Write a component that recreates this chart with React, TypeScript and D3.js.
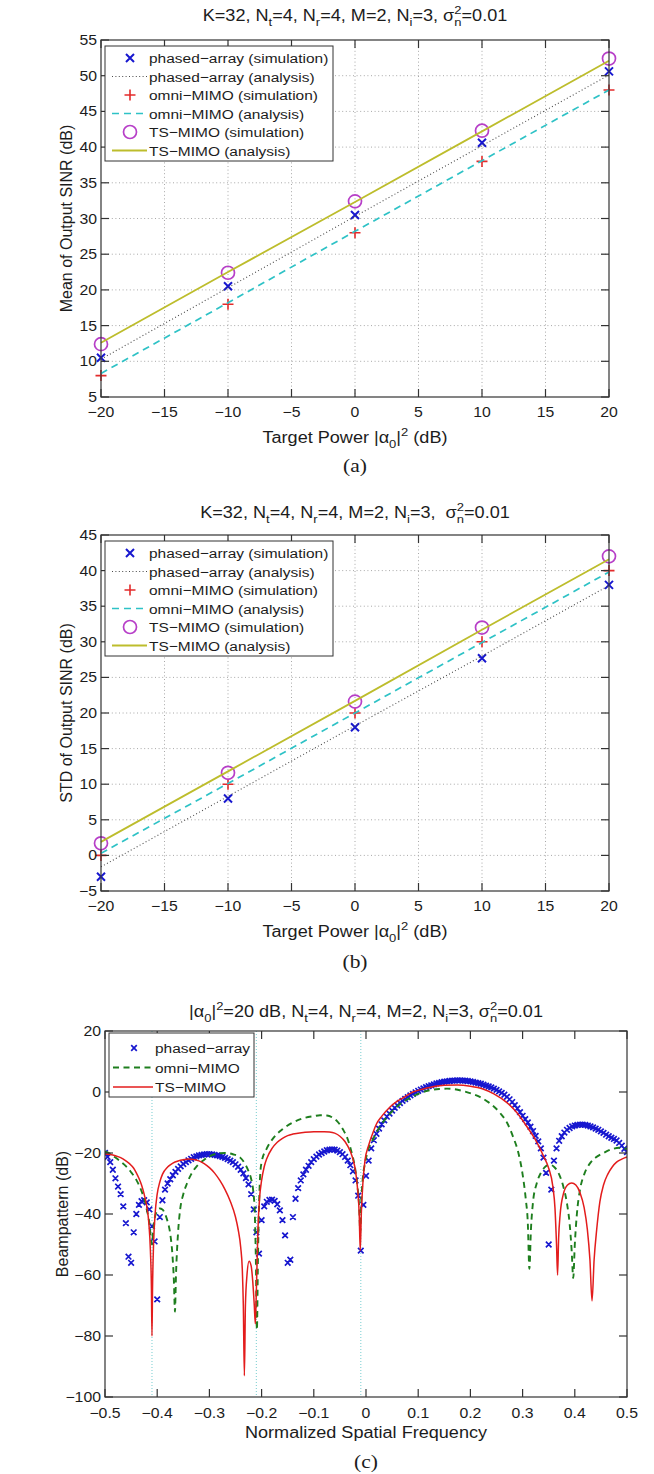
import React from 'react';
import * as d3 from 'd3';

const FONT = '"Liberation Sans", Arial, Helvetica, sans-serif';
const SERIF = '"Liberation Serif", "Times New Roman", serif';
const SX = 1.13;
const TXT = '#1c1c1c';
const AX = '#333333';

// ---------- data: panels (a) and (b) ----------
const targetPower = [-20, -10, 0, 10, 20];
const powerTicks = [-20, -15, -10, -5, 0, 5, 10, 15, 20];
const meanTicks = [5, 10, 15, 20, 25, 30, 35, 40, 45, 50, 55];
const stdTicks = [-5, 0, 5, 10, 15, 20, 25, 30, 35, 40, 45];

const meanPhasedSim = [10.5, 20.5, 30.5, 40.6, 50.6];
const meanPhasedAna = [10.3, 20.3, 30.3, 40.2, 50.1];
const meanOmniSim = [8, 18, 28, 38, 48];
const meanOmniAna = [8.3, 18.2, 28.2, 38.1, 48];
const meanTsSim = [12.4, 22.4, 32.4, 42.3, 52.4];
const meanTsAna = [12.6, 22.5, 32.3, 42.2, 52.1];

const stdPhasedSim = [-3, 8, 18, 27.7, 38];
const stdPhasedAna = [-1.6, 8.3, 18.2, 28, 37.9];
const stdOmniSim = [0, 10, 20, 30, 40];
const stdOmniAna = [0.3, 10.1, 20, 29.9, 39.8];
const stdTsSim = [1.7, 11.6, 21.6, 32, 42];
const stdTsAna = [1.9, 11.8, 21.7, 31.7, 41.6];

// ---------- data: panel (c) ----------
const freqTicks = [-0.5, -0.4, -0.3, -0.2, -0.1, 0, 0.1, 0.2, 0.3, 0.4, 0.5];
const beamTicks = [-100, -80, -60, -40, -20, 0, 20];
const interfererFreqs = [-0.41, -0.21, -0.01];
const beamStep = 0.005;
// phased-array beampattern, sampled every 0.005 from -0.5 to 0.5
const beamPhased = [
  -20, -21.3, -23, -25.5, -28.3, -31, -33.5, -37.5, -43, -54,
  -56, -46, -40, -37, -35.8, -35.5, -36.2, -38.5, -44, -49,
  -68, -41, -35.5, -32, -30, -28.6, -27.3, -26.2, -25.2, -24.4,
  -23.6, -23, -22.4, -21.9, -21.4, -21.1, -20.8, -20.6, -20.5, -20.4,
  -20.4, -20.5, -20.6, -20.8, -21, -21.3, -21.6, -22, -22.5, -23,
  -23.7, -24.5, -25.5, -26.7, -28.2, -30.3, -33.5, -38.5, -46, -53,
  -42, -37.5, -36, -35.4, -35.3, -35.7, -36.8, -38.8, -42, -47,
  -56, -55, -41, -35, -31.5, -29, -27, -25.5, -24.2, -23,
  -22, -21.2, -20.5, -20, -19.5, -19.1, -18.9, -18.8, -18.9, -19.2,
  -19.7, -20.4, -21.3, -22.5, -24, -26, -29, -34, -52, -37,
  -27.5, -22.5, -18.5, -15.8, -13.7, -12, -10.6, -9.3, -8.1, -7.1,
  -6.1, -5.2, -4.4, -3.6, -2.9, -2.3, -1.7, -1.1, -0.6, -0.1,
  0.4, 0.8, 1.2, 1.6, 1.9, 2.2, 2.5, 2.8, 3.0, 3.2,
  3.4, 3.5, 3.6, 3.7, 3.75, 3.8, 3.8, 3.75, 3.7, 3.6,
  3.5, 3.3, 3.1, 2.9, 2.7, 2.4, 2.1, 1.8, 1.5, 1.1,
  0.7, 0.2, -0.3, -0.9, -1.6, -2.4, -3.3, -4.3, -5.4, -6.6,
  -7.8, -8.9, -10, -11.4, -12.8, -14.4, -16.2, -18.5, -21.5, -26.5,
  -50, -32, -22.5, -18.5, -16, -14.5, -13.3, -12.4, -11.8, -11.3,
  -11, -10.8, -10.7, -10.7, -10.8, -11, -11.3, -11.6, -12, -12.4,
  -12.9, -13.4, -14, -14.5, -15, -15.4, -15.9, -16.7, -17.6, -18.6,
  -19.7,
];
const beamOmni: [number, number][] = [
  [-0.5, -19.5], [-0.49, -20.3], [-0.48, -21.5], [-0.47, -22.8], [-0.46, -24.3], [-0.45, -26.3],
  [-0.44, -28.8], [-0.43, -32.5], [-0.425, -35], [-0.42, -38.5], [-0.415, -43], [-0.412, -48],
  [-0.41, -50], [-0.408, -46], [-0.405, -41.5], [-0.4, -39], [-0.395, -38.2], [-0.39, -38.5],
  [-0.385, -40], [-0.38, -42.5], [-0.375, -46.5], [-0.371, -53], [-0.368, -62], [-0.366, -72],
  [-0.364, -60], [-0.36, -46], [-0.356, -38.5], [-0.35, -33.5], [-0.343, -30], [-0.335, -27],
  [-0.324, -24.3], [-0.31, -22.2], [-0.299, -21], [-0.285, -20.2], [-0.27, -20], [-0.255, -20.4],
  [-0.241, -21.5], [-0.232, -23.5], [-0.225, -26], [-0.22, -28.5], [-0.216, -32.5], [-0.213, -40],
  [-0.211, -55], [-0.209, -78], [-0.207, -55], [-0.205, -38], [-0.203, -28], [-0.2, -23],
  [-0.19, -18.5], [-0.178, -15.2], [-0.16, -12.2], [-0.14, -10], [-0.12, -8.6], [-0.1, -7.9],
  [-0.088, -7.6], [-0.075, -7.7], [-0.063, -8.5], [-0.055, -9.6], [-0.044, -12.3], [-0.035, -15.5],
  [-0.028, -19.5], [-0.022, -24], [-0.017, -30], [-0.013, -38], [-0.011, -46], [-0.009, -36],
  [-0.006, -28], [-0.002, -23.5], [0.005, -18.5], [0.012, -16], [0.021, -13], [0.035, -9.3],
  [0.052, -6], [0.07, -3.4], [0.085, -1.9], [0.1, -0.6], [0.12, 0.5], [0.14, 1],
  [0.155, 1.1], [0.17, 0.9], [0.19, 0.1], [0.205, -0.7], [0.218, -1.6], [0.235, -3.4],
  [0.257, -6.9], [0.27, -10], [0.282, -14.8], [0.292, -20], [0.3, -27], [0.306, -35],
  [0.31, -43], [0.313, -58], [0.316, -45], [0.32, -36], [0.327, -30], [0.335, -26.5],
  [0.345, -24.3], [0.352, -23.8], [0.36, -24.5], [0.37, -27], [0.378, -31], [0.385, -36.5],
  [0.39, -43], [0.394, -52], [0.397, -61], [0.4, -50], [0.404, -40], [0.41, -32],
  [0.418, -27], [0.429, -23.4], [0.44, -21.5], [0.455, -20], [0.47, -18.8], [0.485, -18.3],
  [0.5, -18.7],
];
const beamTs: [number, number][] = [
  [-0.5, -20.3], [-0.49, -20.5], [-0.48, -20.9], [-0.47, -21.5], [-0.46, -22.6], [-0.45, -24],
  [-0.445, -25], [-0.44, -26.5], [-0.435, -28.3], [-0.43, -30.5], [-0.425, -33.5], [-0.42, -37.5],
  [-0.416, -43], [-0.413, -52], [-0.411, -65], [-0.41, -80], [-0.409, -65], [-0.407, -50],
  [-0.404, -40], [-0.4, -33.5], [-0.395, -29.5], [-0.39, -27], [-0.38, -24.6], [-0.37, -23.3],
  [-0.36, -22.6], [-0.35, -22.2], [-0.34, -22], [-0.33, -22.1], [-0.32, -22.6], [-0.31, -23.5],
  [-0.3, -24.8], [-0.29, -26.6], [-0.28, -29], [-0.27, -32], [-0.26, -35.8], [-0.25, -41],
  [-0.245, -45], [-0.24, -51], [-0.237, -58], [-0.235, -70], [-0.233, -93], [-0.231, -70],
  [-0.228, -60], [-0.224, -55.5], [-0.22, -57], [-0.217, -62], [-0.214, -70], [-0.212, -76],
  [-0.21, -65], [-0.207, -45], [-0.204, -35], [-0.2, -29], [-0.195, -24.5], [-0.19, -21.8],
  [-0.18, -18.5], [-0.17, -16.5], [-0.16, -15.2], [-0.15, -14.3], [-0.14, -13.8], [-0.12, -13.3],
  [-0.1, -13], [-0.08, -13], [-0.07, -13.1], [-0.06, -13.5], [-0.05, -14.5], [-0.04, -16.3],
  [-0.03, -19.5], [-0.025, -22], [-0.02, -26], [-0.016, -32], [-0.013, -40], [-0.011, -52],
  [-0.009, -40], [-0.006, -30], [-0.002, -22.5], [0.005, -17.5], [0.013, -13.5], [0.02, -10.5],
  [0.03, -8], [0.046, -4.9], [0.06, -3], [0.075, -1.5], [0.09, 0], [0.11, 1],
  [0.13, 1.8], [0.15, 2.2], [0.175, 2.3], [0.2, 1.9], [0.224, 1], [0.245, -0.6],
  [0.27, -3.5], [0.29, -7], [0.308, -11.3], [0.325, -15.8], [0.34, -21], [0.35, -25],
  [0.358, -31], [0.362, -38], [0.365, -50], [0.367, -60], [0.369, -48], [0.372, -40],
  [0.378, -33.5], [0.386, -30.5], [0.394, -29.8], [0.402, -30.5], [0.41, -33], [0.418, -38],
  [0.424, -45], [0.429, -55], [0.433, -68.5], [0.437, -55], [0.442, -45], [0.448, -36],
  [0.455, -30.5], [0.463, -27], [0.472, -24.5], [0.48, -23], [0.49, -22], [0.5, -21.3],
];

// ---------- colours ----------
const C_BLUE = '#1717cf';
const C_RED = '#e32b2b';
const C_MAG = '#b73fc8';
const C_CYAN = '#2ec2c6';
const C_OLIVE = '#bdbd2c';
const C_DOT = '#4a4a4a';
const C_GREEN = '#1e7e1e';
const C_RED2 = '#e31c1c';
const C_INT = '#8ed6d8';

type Seg = { t: string; k?: 'sub' | 'sup'; back?: number };

function Rich({ segs, fs }: { segs: Seg[]; fs: number }) {
  let cur = 0;
  return (
    <>
      {segs.map((s, i) => {
        const target = s.k === 'sub' ? fs * 0.32 : s.k === 'sup' ? -fs * 0.42 : 0;
        const dy = target - cur;
        cur = target;
        return (
          <tspan key={i} dy={dy} dx={s.back ? -s.back : 0} fontSize={s.k ? fs * 0.72 : fs}>
            {s.t}
          </tspan>
        );
      })}
    </>
  );
}

function HText({ x, y, size, anchor = 'middle', family = FONT, children }: any) {
  return (
    <text
      transform={`translate(${x},${y}) scale(${SX},1)`}
      fontSize={size}
      textAnchor={anchor}
      fontFamily={family}
      fill={TXT}
      style={{ whiteSpace: 'pre' }}
    >
      {children}
    </text>
  );
}

const fmtNum = (v: number) => {
  const r = Math.round(v * 10) / 10;
  return (r < 0 ? '\u2212' : '') + String(Math.abs(r));
};

const xMark = (cx: number, cy: number, s: number) =>
  `M${cx - s},${cy - s}L${cx + s},${cy + s}M${cx - s},${cy + s}L${cx + s},${cy - s}`;
const plusMark = (cx: number, cy: number, s: number) =>
  `M${cx - s},${cy}L${cx + s},${cy}M${cx},${cy - s}L${cx},${cy + s}`;

const sigmaSegs = (fs: number, pre: string): Seg[] => [
  { t: pre + '\u03c3' },
  { t: '2', k: 'sup' },
  { t: 'n', k: 'sub', back: fs * 0.72 * 0.556 },
  { t: '=0.01' },
];

const titleAB = (fs: number, gap: string): Seg[] => [
  { t: 'K=32, N' }, { t: 't', k: 'sub' }, { t: '=4, N' }, { t: 'r', k: 'sub' },
  { t: '=4, M=2, N' }, { t: 'i', k: 'sub' }, ...sigmaSegs(fs, '=3,' + gap),
];
const titleC = (fs: number): Seg[] => [
  { t: '|\u03b1' }, { t: '0', k: 'sub' }, { t: '|' }, { t: '2', k: 'sup' },
  { t: '=20 dB, N' }, { t: 't', k: 'sub' }, { t: '=4, N' }, { t: 'r', k: 'sub' },
  { t: '=4, M=2, N' }, { t: 'i', k: 'sub' }, ...sigmaSegs(fs, '=3, '),
];
const powerLabel: Seg[] = [
  { t: 'Target Power |\u03b1' }, { t: '0', k: 'sub' }, { t: '|' }, { t: '2', k: 'sup' }, { t: ' (dB)' },
];

const F_TICK = 14;
const F_LEG = 13.7;
const F_TITLE = 16;
const F_LABEL = 16;

function Box({ left, right, top, bottom, xs, ys }: any) {
  const tl = 8;
  return (
    <g stroke={AX} strokeWidth={1.2} fill="none">
      <rect x={left} y={top} width={right - left} height={bottom - top} />
      {xs.map((px: number, i: number) => (
        <g key={'x' + i}>
          <line x1={px} x2={px} y1={bottom} y2={bottom - tl} />
          <line x1={px} x2={px} y1={top} y2={top + tl} />
        </g>
      ))}
      {ys.map((py: number, i: number) => (
        <g key={'y' + i}>
          <line x1={left} x2={left + tl} y1={py} y2={py} />
          <line x1={right} x2={right - tl} y1={py} y2={py} />
        </g>
      ))}
    </g>
  );
}

function SinrPanel(p: any) {
  const { top, bottom, left, right, yTicks, title, ylabel, caption, titleY, tickY, labelY, capY, s } = p;
  const x = d3.scaleLinear().domain([-20, 20]).range([left, right]);
  const y = d3.scaleLinear().domain([yTicks[0], yTicks[yTicks.length - 1]]).range([bottom, top]);
  const line = (vals: number[]) =>
    d3.line<number>().x((_, i) => x(targetPower[i])).y((v) => y(v))(vals) || '';
  const cx = (left + right) / 2;
  const lgTop = top + 6;
  const rowY = (i: number) => lgTop + 12 + i * 18.5;
  const mx = left + 29;
  const lx0 = left + 11;
  const lx1 = left + 46;
  const tx = left + 48;
  const legend = [
    'phased\u2212array (simulation)',
    'phased\u2212array (analysis)',
    'omni\u2212MIMO (simulation)',
    'omni\u2212MIMO (analysis)',
    'TS\u2212MIMO (simulation)',
    'TS\u2212MIMO (analysis)',
  ];
  return (
    <g>
      {/* grid */}
      <g stroke="#a8a8a8" strokeWidth={1} strokeDasharray="1,2.6">
        {powerTicks.slice(1, -1).map((t) => (
          <line key={'gx' + t} x1={x(t)} x2={x(t)} y1={top} y2={bottom} />
        ))}
        {yTicks.slice(1, -1).map((t: number) => (
          <line key={'gy' + t} x1={left} x2={right} y1={y(t)} y2={y(t)} />
        ))}
      </g>
      {/* series */}
      <path d={s.phasedSim.map((v: number, i: number) => xMark(x(targetPower[i]), y(v), 4)).join('')} stroke={C_BLUE} strokeWidth={2} fill="none" />
      <path d={line(s.phasedAna)} stroke={C_DOT} strokeWidth={1.1} strokeDasharray="1,2.4" fill="none" />
      <path d={s.omniSim.map((v: number, i: number) => plusMark(x(targetPower[i]), y(v), 5.5)).join('')} stroke={C_RED} strokeWidth={1.6} fill="none" />
      <path d={line(s.omniAna)} stroke={C_CYAN} strokeWidth={1.7} strokeDasharray="7,5" fill="none" />
      {s.tsSim.map((v: number, i: number) => (
        <circle key={'c' + i} cx={x(targetPower[i])} cy={y(v)} r={6.5} stroke={C_MAG} strokeWidth={1.7} fill="none" />
      ))}
      <path d={line(s.tsAna)} stroke={C_OLIVE} strokeWidth={1.8} fill="none" />

      <Box left={left} right={right} top={top} bottom={bottom} xs={powerTicks.map((t) => x(t))} ys={yTicks.map((t: number) => y(t))} />

      {/* tick labels */}
      {powerTicks.map((t) => (
        <HText key={'tx' + t} x={x(t)} y={tickY} size={F_TICK}>{fmtNum(t)}</HText>
      ))}
      {yTicks.map((t: number) => (
        <HText key={'ty' + t} x={left - 4} y={y(t) + 5} size={F_TICK} anchor="end">{fmtNum(t)}</HText>
      ))}
      <HText x={cx} y={labelY} size={F_LABEL}><Rich segs={powerLabel} fs={F_LABEL} /></HText>
      <HText x={cx} y={titleY} size={F_TITLE}><Rich segs={title} fs={F_TITLE} /></HText>
      <text transform={`translate(${left - 29},${(top + bottom) / 2}) rotate(-90)`} textAnchor="middle" fontSize={16} fontFamily={FONT} fill={TXT}>{ylabel}</text>
      <HText x={cx} y={capY} size={19} family={SERIF}>{caption}</HText>

      {/* legend */}
      <rect x={left + 4} y={lgTop} width={228} height={115} fill="#fff" stroke={AX} strokeWidth={1} />
      <path d={xMark(mx, rowY(0), 4)} stroke={C_BLUE} strokeWidth={2} fill="none" />
      <line x1={lx0} x2={lx1} y1={rowY(1)} y2={rowY(1)} stroke={C_DOT} strokeWidth={1.1} strokeDasharray="1,2.4" />
      <path d={plusMark(mx, rowY(2), 5.5)} stroke={C_RED} strokeWidth={1.6} fill="none" />
      <line x1={lx0} x2={lx1} y1={rowY(3)} y2={rowY(3)} stroke={C_CYAN} strokeWidth={1.7} strokeDasharray="7,5" />
      <circle cx={mx} cy={rowY(4)} r={6.5} stroke={C_MAG} strokeWidth={1.7} fill="none" />
      <line x1={lx0} x2={lx1} y1={rowY(5)} y2={rowY(5)} stroke={C_OLIVE} strokeWidth={1.8} />
      {legend.map((t, i) => (
        <HText key={'lg' + i} x={tx} y={rowY(i) + 5} size={F_LEG} anchor="start">{t}</HText>
      ))}
    </g>
  );
}

function BeamPanel() {
  const top = 1031, bottom = 1397, left = 105, right = 627;
  const x = d3.scaleLinear().domain([-0.5, 0.5]).range([left, right]);
  const y = d3.scaleLinear().domain([-100, 20]).range([bottom, top]);
  const cx = (left + right) / 2;
  const pathFor = (pts: [number, number][]) =>
    d3.line<[number, number]>().x((d) => x(d[0])).y((d) => y(d[1])).curve(d3.curveMonotoneX)(pts) || '';
  const phasedPts = beamPhased.map((v, i) => [-0.5 + i * beamStep, v] as [number, number]);
  const lgTop = top + 2;
  const rowY = (i: number) => lgTop + 15 + i * 19.5;
  const mx = left + 29;
  const lx0 = left + 8;
  const lx1 = left + 48;
  const tx = left + 50;
  const ms = 2.8;
  return (
    <g>
      <defs>
        <clipPath id="clipC">
          <rect x={left} y={top} width={right - left} height={bottom - top} />
        </clipPath>
      </defs>
      <g clipPath="url(#clipC)">
        {interfererFreqs.map((f) => (
          <line key={'int' + f} x1={x(f)} x2={x(f)} y1={top} y2={bottom} stroke={C_INT} strokeWidth={1.2} strokeDasharray="1,2" />
        ))}
        <path d={phasedPts.map((d) => xMark(x(d[0]), y(d[1]), ms)).join('')} stroke={C_BLUE} strokeWidth={1.7} fill="none" />
        <path d={pathFor(beamOmni)} stroke={C_GREEN} strokeWidth={1.9} strokeDasharray="6,4.5" fill="none" />
        <path d={pathFor(beamTs)} stroke={C_RED2} strokeWidth={1.5} fill="none" />
      </g>
      <Box left={left} right={right} top={top} bottom={bottom} xs={freqTicks.map((t) => x(t))} ys={beamTicks.map((t) => y(t))} />
      {freqTicks.map((t) => (
        <HText key={'fx' + t} x={x(t)} y={1418} size={F_TICK}>{fmtNum(t)}</HText>
      ))}
      {beamTicks.map((t) => (
        <HText key={'fy' + t} x={left - 4} y={y(t) + 5} size={F_TICK} anchor="end">{fmtNum(t)}</HText>
      ))}
      <HText x={cx} y={1438} size={F_LABEL}>Normalized Spatial Frequency</HText>
      <HText x={cx} y={1017} size={F_TITLE}><Rich segs={titleC(F_TITLE)} fs={F_TITLE} /></HText>
      <text transform={`translate(${left - 37},${(top + bottom) / 2}) rotate(-90)`} textAnchor="middle" fontSize={16} fontFamily={FONT} fill={TXT}>Beampattern (dB)</text>
      <HText x={cx} y={1468} size={19} family={SERIF}>(c)</HText>

      <rect x={left + 4} y={lgTop} width={145} height={64} fill="#fff" stroke={AX} strokeWidth={1} />
      <path d={xMark(mx, rowY(0), ms)} stroke={C_BLUE} strokeWidth={1.7} fill="none" />
      <line x1={lx0} x2={lx1} y1={rowY(1)} y2={rowY(1)} stroke={C_GREEN} strokeWidth={1.9} strokeDasharray="6,4.5" />
      <line x1={lx0} x2={lx1} y1={rowY(2)} y2={rowY(2)} stroke={C_RED2} strokeWidth={1.5} />
      {['phased\u2212array', 'omni\u2212MIMO', 'TS\u2212MIMO'].map((t, i) => (
        <HText key={'lc' + i} x={tx} y={rowY(i) + 5} size={F_LEG} anchor="start">{t}</HText>
      ))}
    </g>
  );
}

export default function App() {
  return (
    <svg width={654} height={1474} style={{ position: 'absolute', left: 0, top: 0, display: 'block' }} fontFamily={FONT}>
      <rect x={0} y={0} width={654} height={1474} fill="#fff" />
      <SinrPanel
        top={40} bottom={397} left={101} right={609}
        yTicks={meanTicks}
        title={titleAB(F_TITLE, ' ')}
        ylabel="Mean of Output SINR (dB)"
        caption="(a)"
        titleY={21} tickY={417} labelY={443} capY={472}
        s={{ phasedSim: meanPhasedSim, phasedAna: meanPhasedAna, omniSim: meanOmniSim, omniAna: meanOmniAna, tsSim: meanTsSim, tsAna: meanTsAna }}
      />
      <SinrPanel
        top={535} bottom={891} left={101} right={609}
        yTicks={stdTicks}
        title={titleAB(F_TITLE, '  ')}
        ylabel="STD of Output SINR (dB)"
        caption="(b)"
        titleY={518} tickY={911} labelY={937} capY={968}
        s={{ phasedSim: stdPhasedSim, phasedAna: stdPhasedAna, omniSim: stdOmniSim, omniAna: stdOmniAna, tsSim: stdTsSim, tsAna: stdTsAna }}
      />
      <BeamPanel />
    </svg>
  );
}
